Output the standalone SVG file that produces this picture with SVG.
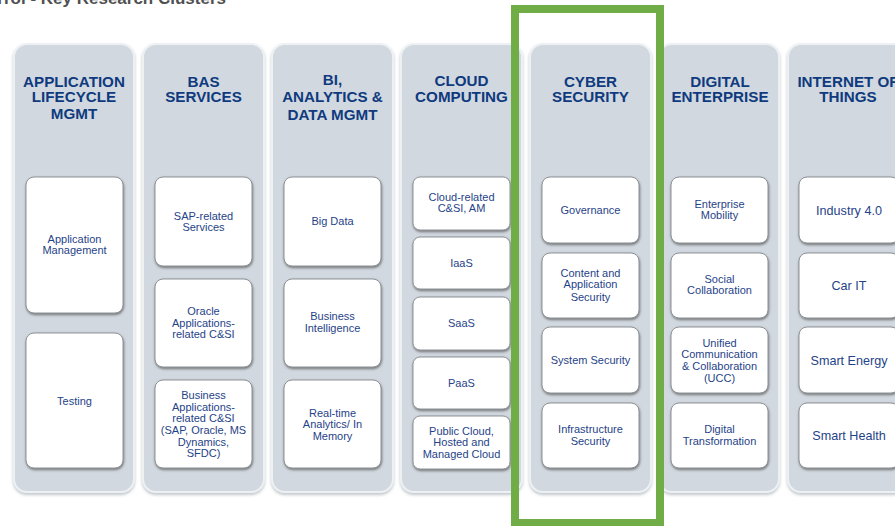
<svg xmlns="http://www.w3.org/2000/svg" width="895" height="526" viewBox="0 0 895 526">
<defs>
<filter id="psh" x="-10%" y="-5%" width="120%" height="110%">
<feDropShadow dx="0" dy="2" stdDeviation="1.5" flood-color="#9aa3ab" flood-opacity="0.6"/>
</filter>
<filter id="bsh" x="-10%" y="-10%" width="120%" height="125%">
<feDropShadow dx="0.5" dy="1.5" stdDeviation="0.8" flood-color="#555" flood-opacity="0.75"/>
</filter>
</defs>
<style>
.panel{fill:#d1d8df;stroke:#eef1f4;stroke-width:2;filter:url(#psh)}
.box{fill:#ffffff;stroke:#8d9296;stroke-width:1;filter:url(#bsh)}
.hd{font-family:"Liberation Sans",Arial,sans-serif;font-weight:bold;font-size:15.2px;fill:#0f3a7e;text-anchor:middle}
.bt{font-family:"Liberation Sans",Arial,sans-serif;font-size:11px;fill:#1f4388;text-anchor:middle}
.bt2{font-family:"Liberation Sans",Arial,sans-serif;font-size:12.6px;fill:#1f4388;text-anchor:middle}
.title{font-family:"Liberation Sans",Arial,sans-serif;font-weight:bold;font-size:17px;fill:#505050}
</style>
<rect width="895" height="526" fill="#ffffff"/>
<text class="title" x="226" y="4" text-anchor="end">rrol - Key Research Clusters</text>

<g id="col1">
<rect class="panel" x="14" y="44" width="120" height="448" rx="13"/>
<text class="hd" x="74" y="86.5">APPLICATION</text>
<text class="hd" x="74" y="102">LIFECYCLE</text>
<text class="hd" x="74" y="119">MGMT</text>
<g id="n-appmgmt"><rect class="box" x="26" y="177" width="97" height="136" rx="8"/>
<text class="bt" x="74.5" y="243">Application</text><text class="bt" x="74.5" y="254">Management</text></g>
<g id="n-testing"><rect class="box" x="26" y="333" width="97" height="135" rx="8"/>
<text class="bt" x="74.5" y="405">Testing</text></g>
</g>

<g id="col2">
<rect class="panel" x="143" y="44" width="121" height="448" rx="13"/>
<text class="hd" x="203.5" y="86.5">BAS</text>
<text class="hd" x="203.5" y="102">SERVICES</text>
<g id="n-sap"><rect class="box" x="155" y="177" width="97" height="89" rx="8"/>
<text class="bt" x="203.5" y="220">SAP-related</text><text class="bt" x="203.5" y="231">Services</text></g>
<g id="n-oracle"><rect class="box" x="155" y="279" width="97" height="88" rx="8"/>
<text class="bt" x="203.5" y="315">Oracle</text><text class="bt" x="203.5" y="327">Applications-</text><text class="bt" x="203.5" y="338">related C&amp;SI</text></g>
<g id="n-busapps"><rect class="box" x="155" y="380" width="97" height="88" rx="8"/>
<text class="bt" x="203.5" y="399">Business</text><text class="bt" x="203.5" y="410.5">Applications-</text><text class="bt" x="203.5" y="422">related C&amp;SI</text><text class="bt" x="203.5" y="433.5">(SAP, Oracle, MS</text><text class="bt" x="203.5" y="446">Dynamics,</text><text class="bt" x="203.5" y="457">SFDC)</text></g>
</g>

<g id="col3">
<rect class="panel" x="272" y="44" width="121" height="448" rx="13"/>
<text class="hd" x="332.5" y="85">BI,</text>
<text class="hd" x="332.5" y="102">ANALYTICS &amp;</text>
<text class="hd" x="332.5" y="120">DATA MGMT</text>
<g id="n-bigdata"><rect class="box" x="284" y="177" width="97" height="89" rx="8"/>
<text class="bt" x="332.5" y="225">Big Data</text></g>
<g id="n-bi"><rect class="box" x="284" y="279" width="97" height="88" rx="8"/>
<text class="bt" x="332.5" y="320">Business</text><text class="bt" x="332.5" y="332">Intelligence</text></g>
<g id="n-realtime"><rect class="box" x="284" y="380" width="97" height="88" rx="8"/>
<text class="bt" x="332.5" y="417">Real-time</text><text class="bt" x="332.5" y="428">Analytics/ In</text><text class="bt" x="332.5" y="440">Memory</text></g>
</g>

<g id="col4">
<rect class="panel" x="401" y="44" width="121" height="448" rx="13"/>
<text class="hd" x="461.5" y="86">CLOUD</text>
<text class="hd" x="461.5" y="102">COMPUTING</text>
<g id="n-cloudcsi"><rect class="box" x="413" y="177" width="97" height="53" rx="7"/>
<text class="bt" x="461.5" y="201">Cloud-related</text><text class="bt" x="461.5" y="212">C&amp;SI, AM</text></g>
<g id="n-iaas"><rect class="box" x="413" y="237" width="97" height="52" rx="7"/>
<text class="bt" x="461.5" y="267">IaaS</text></g>
<g id="n-saas"><rect class="box" x="413" y="297" width="97" height="53" rx="7"/>
<text class="bt" x="461.5" y="327">SaaS</text></g>
<g id="n-paas"><rect class="box" x="413" y="357" width="97" height="52" rx="7"/>
<text class="bt" x="461.5" y="387">PaaS</text></g>
<g id="n-public"><rect class="box" x="413" y="416" width="97" height="53" rx="7"/>
<text class="bt" x="461.5" y="435">Public Cloud,</text><text class="bt" x="461.5" y="446">Hosted and</text><text class="bt" x="461.5" y="458">Managed Cloud</text></g>
</g>

<g id="col5">
<rect class="panel" x="530" y="44" width="121" height="448" rx="13"/>
<text class="hd" x="590.5" y="86.5">CYBER</text>
<text class="hd" x="590.5" y="102">SECURITY</text>
<g id="n-gov"><rect class="box" x="542" y="177" width="97" height="66" rx="8"/>
<text class="bt" x="590.5" y="214">Governance</text></g>
<g id="n-content"><rect class="box" x="542" y="253" width="97" height="65" rx="8"/>
<text class="bt" x="590.5" y="277">Content and</text><text class="bt" x="590.5" y="288">Application</text><text class="bt" x="590.5" y="301">Security</text></g>
<g id="n-syssec"><rect class="box" x="542" y="327" width="97" height="66" rx="8"/>
<text class="bt" x="590.5" y="364">System Security</text></g>
<g id="n-infra"><rect class="box" x="542" y="403" width="97" height="65" rx="8"/>
<text class="bt" x="590.5" y="433">Infrastructure</text><text class="bt" x="590.5" y="445">Security</text></g>
</g>

<g id="col6">
<rect class="panel" x="659" y="44" width="120" height="448" rx="13"/>
<text class="hd" x="720" y="86.5">DIGITAL</text>
<text class="hd" x="720" y="102">ENTERPRISE</text>
<g id="n-mobility"><rect class="box" x="671" y="177" width="97" height="66" rx="8"/>
<text class="bt" x="719.5" y="208">Enterprise</text><text class="bt" x="719.5" y="219">Mobility</text></g>
<g id="n-social"><rect class="box" x="671" y="253" width="97" height="65" rx="8"/>
<text class="bt" x="719.5" y="283">Social</text><text class="bt" x="719.5" y="294">Collaboration</text></g>
<g id="n-ucc"><rect class="box" x="671" y="327" width="97" height="66" rx="8"/>
<text class="bt" x="719.5" y="347">Unified</text><text class="bt" x="719.5" y="358">Communication</text><text class="bt" x="719.5" y="370">&amp; Collaboration</text><text class="bt" x="719.5" y="382">(UCC)</text></g>
<g id="n-dt"><rect class="box" x="671" y="403" width="97" height="65" rx="8"/>
<text class="bt" x="719.5" y="433">Digital</text><text class="bt" x="719.5" y="445">Transformation</text></g>
</g>

<g id="col7">
<rect class="panel" x="788" y="44" width="121" height="448" rx="13"/>
<text class="hd" x="848" y="86.5">INTERNET OF</text>
<text class="hd" x="848" y="102">THINGS</text>
<g id="n-ind40"><rect class="box" x="799" y="177" width="100" height="66" rx="8"/>
<text class="bt2" x="849" y="215">Industry 4.0</text></g>
<g id="n-carit"><rect class="box" x="799" y="253" width="100" height="65" rx="8"/>
<text class="bt2" x="849" y="290">Car IT</text></g>
<g id="n-energy"><rect class="box" x="799" y="327" width="100" height="66" rx="8"/>
<text class="bt2" x="849" y="365">Smart Energy</text></g>
<g id="n-health"><rect class="box" x="799" y="403" width="100" height="65" rx="8"/>
<text class="bt2" x="849" y="440">Smart Health</text></g>
</g>

<g id="connectors"></g>

<g id="highlight">
<rect x="515" y="9" width="145" height="514" fill="none" stroke="#70ad47" stroke-width="8"/>
</g>
</svg>
